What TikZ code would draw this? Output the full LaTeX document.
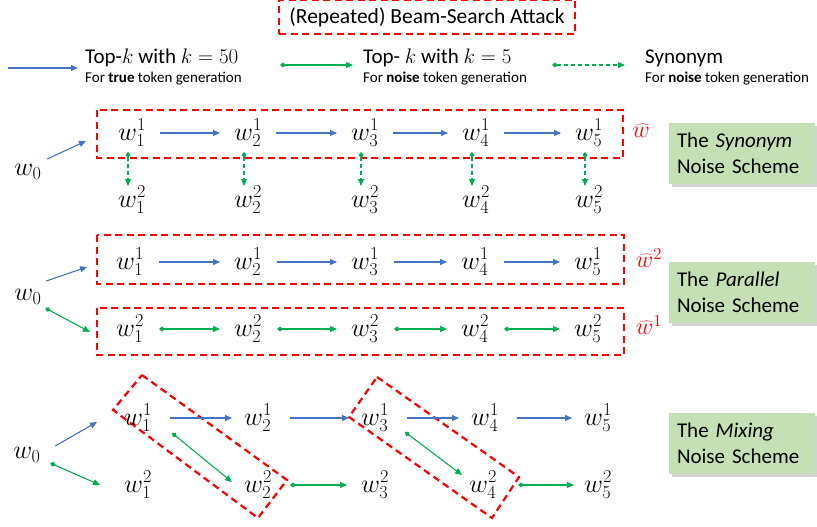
\documentclass[tikz,border=0pt]{standalone}
\usepackage{fix-cm}
\usepackage{fontspec}
\setmainfont{Carlito}
\usetikzlibrary{arrows.meta,shadows}
\definecolor{myblue}{HTML}{4472C4}
\definecolor{mygreen}{HTML}{00B050}
\definecolor{myred}{HTML}{FF0000}
\definecolor{boxgreen}{HTML}{C5E0B4}
\begin{document}
\begin{tikzpicture}[x=1pt,y=-1pt,
  tok/.style={inner sep=0pt, minimum width=28pt, minimum height=28pt, font=\fontsize{26}{30}\selectfont},
  barrow/.style={draw=myblue, line width=1.1pt, -{Triangle[length=7pt,width=6pt]}},
  garrow/.style={draw=mygreen, line width=1.1pt, {Diamond[length=6pt,width=5pt]}-{Triangle[length=7pt,width=6pt]}},
  sarrow/.style={garrow, dash pattern=on 4pt off 3pt},
  redbox/.style={draw=myred, line width=2.2pt, dash pattern=on 7pt off 4.5pt},
  scheme/.style={fill=boxgreen, text width=130pt, inner xsep=8pt, minimum height=61pt, align=left,
    font=\fontsize{21}{26}\selectfont, drop shadow={opacity=0.35, shadow xshift=3pt, shadow yshift=-3pt}},
  hatlab/.style={text=myred, inner sep=0pt, font=\fontsize{24}{28}\selectfont},
  legbig/.style={anchor=west, inner sep=0pt, font=\fontsize{21}{25}\selectfont},
  legsmall/.style={anchor=west, inner sep=0pt, font=\fontsize{15}{18}\selectfont},
]
\useasboundingbox (0,0) rectangle (817,527);

% title
\node[redbox, minimum width=296pt, minimum height=34pt, inner sep=0pt,
  font=\fontsize{21.5}{25}\selectfont] (title) at (427,17) {(Repeated) Beam-Search Attack};

% legend
\coordinate (la1) at (8,68);   \coordinate (la2) at (78,68);
\coordinate (lg1) at (280,65); \coordinate (lg2) at (353,65);
\coordinate (ls1) at (552,65); \coordinate (ls2) at (625,65);
\draw[barrow] (la1) -- (la2);
\draw[garrow] (lg1) -- (lg2);
\draw[sarrow] (ls1) -- (ls2);
\node[legbig] (lt1) at (85,58) {Top-$k$ with $k=50$};
\node[legsmall] (ld1) at (85,79) {For \textbf{true} token generation};
\node[legbig] (lt2) at (363,58) {Top- $k$ with $k=5$};
\node[legsmall] (ld2) at (363,79) {For \textbf{noise} token generation};
\node[legbig] (lt3) at (645,58) {Synonym};
\node[legsmall] (ld3) at (645,79) {For \textbf{noise} token generation};

% ===== Synonym scheme =====
\draw[redbox] (97,110) rectangle (623,158);
\node[tok] (s0) at (28,172) {$w_0$};
\foreach \i/\x in {1/132,2/248,3/365,4/476,5/589}{
  \node[tok] (sa\i) at (\x,133) {$w_{\i}^{1}$};
  \node[tok] (sb\i) at (\x,200) {$w_{\i}^{2}$};
  \draw[sarrow, shorten <=19pt, shorten >=14pt] ([xshift=-4pt]sa\i.center) -- ([xshift=-4pt]sb\i.center);
}
\foreach \i/\j in {1/2,2/3,3/4,4/5}{
  \draw[barrow, shorten <=28pt, shorten >=28pt] (sa\i.center) -- (sa\j.center);
}
\coordinate (se) at (86,141);
\draw[barrow] ([xshift=5pt,yshift=13pt]s0.east) -- (se);
\node[hatlab] (shat) at (641,131) {$\widehat{w}$};
\node[scheme] (sbox) at (742,153.5) {The \textit{Synonym}\\Noise Scheme};

% ===== Parallel scheme =====
\draw[redbox] (97,235) rectangle (624,284);
\draw[redbox] (97,308) rectangle (624,355);
\node[tok] (p0) at (28,297) {$w_0$};
\foreach \i/\x in {1/130,2/248,3/365,4/475,5/588}{
  \node[tok] (pa\i) at (\x,262) {$w_{\i}^{1}$};
  \node[tok] (pb\i) at (\x,329) {$w_{\i}^{2}$};
}
\foreach \i/\j in {1/2,2/3,3/4,4/5}{
  \draw[barrow, shorten <=29pt, shorten >=28pt] (pa\i.center) -- (pa\j.center);
  \draw[garrow, shorten <=29pt, shorten >=28pt] (pb\i.center) -- (pb\j.center);
}
\coordinate (pe1) at (87,267);
\coordinate (pe2) at (90,332);
\draw[barrow] ([xshift=4pt,yshift=16pt]p0.east) -- (pe1);
\draw[garrow] ([xshift=3pt,yshift=-11pt]p0.east) -- (pe2);
\node[hatlab] (phat2) at (649,258) {$\widehat{w}^{2}$};
\node[hatlab] (phat1) at (649,325) {$\widehat{w}^{1}$};
\node[scheme] (pbox) at (742,292) {The \textit{Parallel}\\Noise Scheme};

% ===== Mixing scheme =====
\draw[redbox] (142,375) -- (287,480) -- (258,518) -- (113,410) -- cycle;
\draw[redbox] (377,377) -- (519,477) -- (492,518) -- (349,417) -- cycle;
\node[tok] (m0) at (27,455) {$w_0$};
\foreach \i/\x in {1/138,2/258,3/375,4/485,5/598}{
  \node[tok] (ma\i) at (\x,418) {$w_{\i}^{1}$};
}
\foreach \i/\x in {1/138,2/258,3/375,4/483,5/598}{
  \node[tok] (mb\i) at (\x,485) {$w_{\i}^{2}$};
}
\foreach \i/\j in {1/2,2/3,3/4,4/5}{
  \draw[barrow, shorten <=32pt, shorten >=26pt] (ma\i.center) -- (ma\j.center);
}
\draw[garrow, shorten <=32pt, shorten >=28pt] (mb2.center) -- (mb3.center);
\draw[garrow, shorten <=35pt, shorten >=24pt] (mb4.center) -- (mb5.center);
\draw[garrow] ([xshift=34pt,yshift=-15pt]ma1.center) -- ([xshift=-26pt,yshift=3pt]mb2.center);
\draw[garrow] ([xshift=30pt,yshift=-14pt]ma3.center) -- ([xshift=-21pt,yshift=10pt]mb4.center);
\coordinate (me1) at (97,422);
\coordinate (me2) at (100,485);
\draw[barrow] ([xshift=14pt,yshift=9pt]m0.east) -- (me1);
\draw[garrow] ([xshift=9pt,yshift=-8pt]m0.east) -- (me2);
\node[scheme] (mbox) at (742,443.5) {The \textit{Mixing}\\Noise Scheme};
\end{tikzpicture}
\end{document}
